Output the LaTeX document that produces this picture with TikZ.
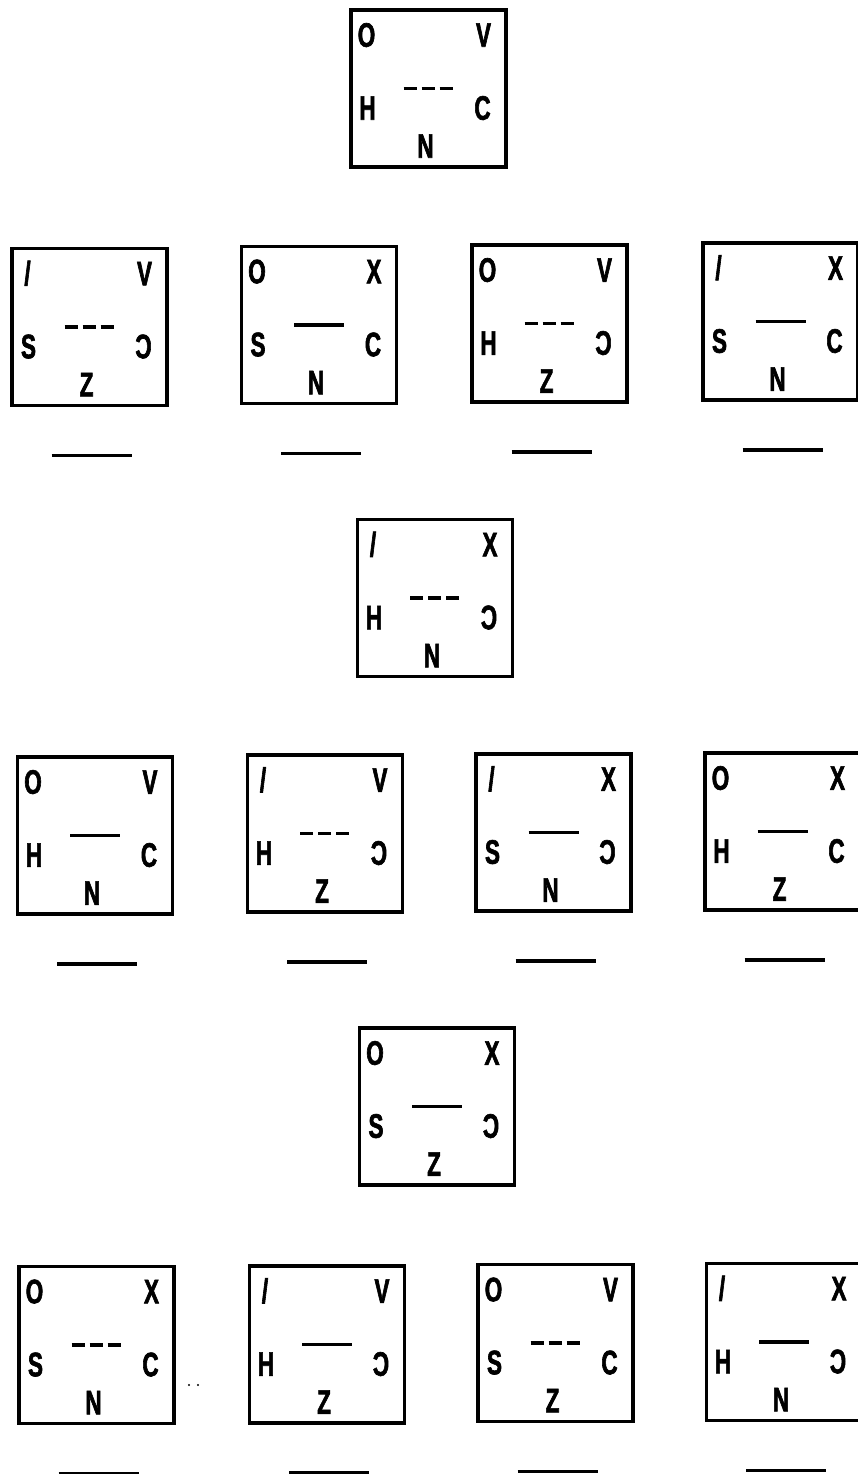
\documentclass[tikz,border=0pt]{standalone}
\usepackage{fontspec}
\newfontfamily\cardfont{Liberation Sans Bold}[FakeStretch=0.66, FakeBold=1.8]
\usetikzlibrary{positioning}
\newcommand\lslash{/}
\newcommand\backc{\reflectbox{C}}

\begin{document}
\begin{tikzpicture}[
    x=1pt, y=-1pt,
    card/.style={
        rectangle,
        draw,
        line width=3.5pt,
        minimum width=155pt,
        minimum height=157pt,
        inner sep=0pt
    },
    letter/.style={
        font=\cardfont\fontsize{34}{34}\selectfont,
        inner sep=0pt,
        text height=24.5pt,
        text depth=0pt
    },
    solid bond/.style={line width=3.4pt},
    broken bond/.style={line width=3.4pt, dash pattern=on 13pt off 5pt},
    answer/.style={line width=3.5pt}
]
\useasboundingbox (0,0) rectangle (858,1474);

\foreach \n/\cx/\cy/\tl/\tr/\l/\r/\b/\ln/\ul in {
    top/428.5/88.5/O/V/H/C/N/broken/0,
    a1/89.5/327/\lslash/V/S/\backc/Z/broken/1,
    a2/319/325/O/X/S/C/N/solid/1,
    a3/549.5/323.5/O/V/H/\backc/Z/broken/1,
    a4/780.5/321.5/\lslash/X/S/C/N/solid/1,
    mid/435/598/\lslash/X/H/\backc/N/broken/0,
    b1/95/835.5/O/V/H/C/N/solid/1,
    b2/325/833.5/\lslash/V/H/\backc/Z/broken/1,
    b3/553.5/832.5/\lslash/X/S/\backc/N/solid/1,
    b4/782.5/831.5/O/X/H/C/Z/solid/1,
    low/437/1106.5/O/X/S/\backc/Z/solid/0,
    c1/96.5/1345/O/X/S/C/N/broken/1,
    c2/327/1344.5/\lslash/V/H/\backc/Z/solid/1,
    c3/555.5/1343/O/V/S/C/Z/broken/1,
    c4/784/1342/\lslash/X/H/\backc/N/solid/1%
}{
    \node[card] (\n) at (\cx,\cy) {};
    \node[letter] (\n-tl) at ([shift={(-62,-54)}]\n.center) {\tl};
    \node[letter] (\n-tr) at ([shift={(55,-54)}]\n.center) {\tr};
    \node[letter] (\n-l) at ([shift={(-61,19)}]\n.center) {\l};
    \node[letter] (\n-r) at ([shift={(54,19)}]\n.center) {\r};
    \node[letter] (\n-b) at ([shift={(-3,57)}]\n.center) {\b};
    \draw[\ln\space bond] ([shift={(-25,0)}]\n.center) -- ([shift={(25,0)}]\n.center);
    \ifnum\ul=1
        \draw[answer] ([shift={(-38,48)}]\n.south) -- ++(80,0);
    \fi
}

% specks beside the last row
\fill (189,1385) circle (1.2pt);
\fill (198,1385) circle (1.2pt);

\end{tikzpicture}
\end{document}
